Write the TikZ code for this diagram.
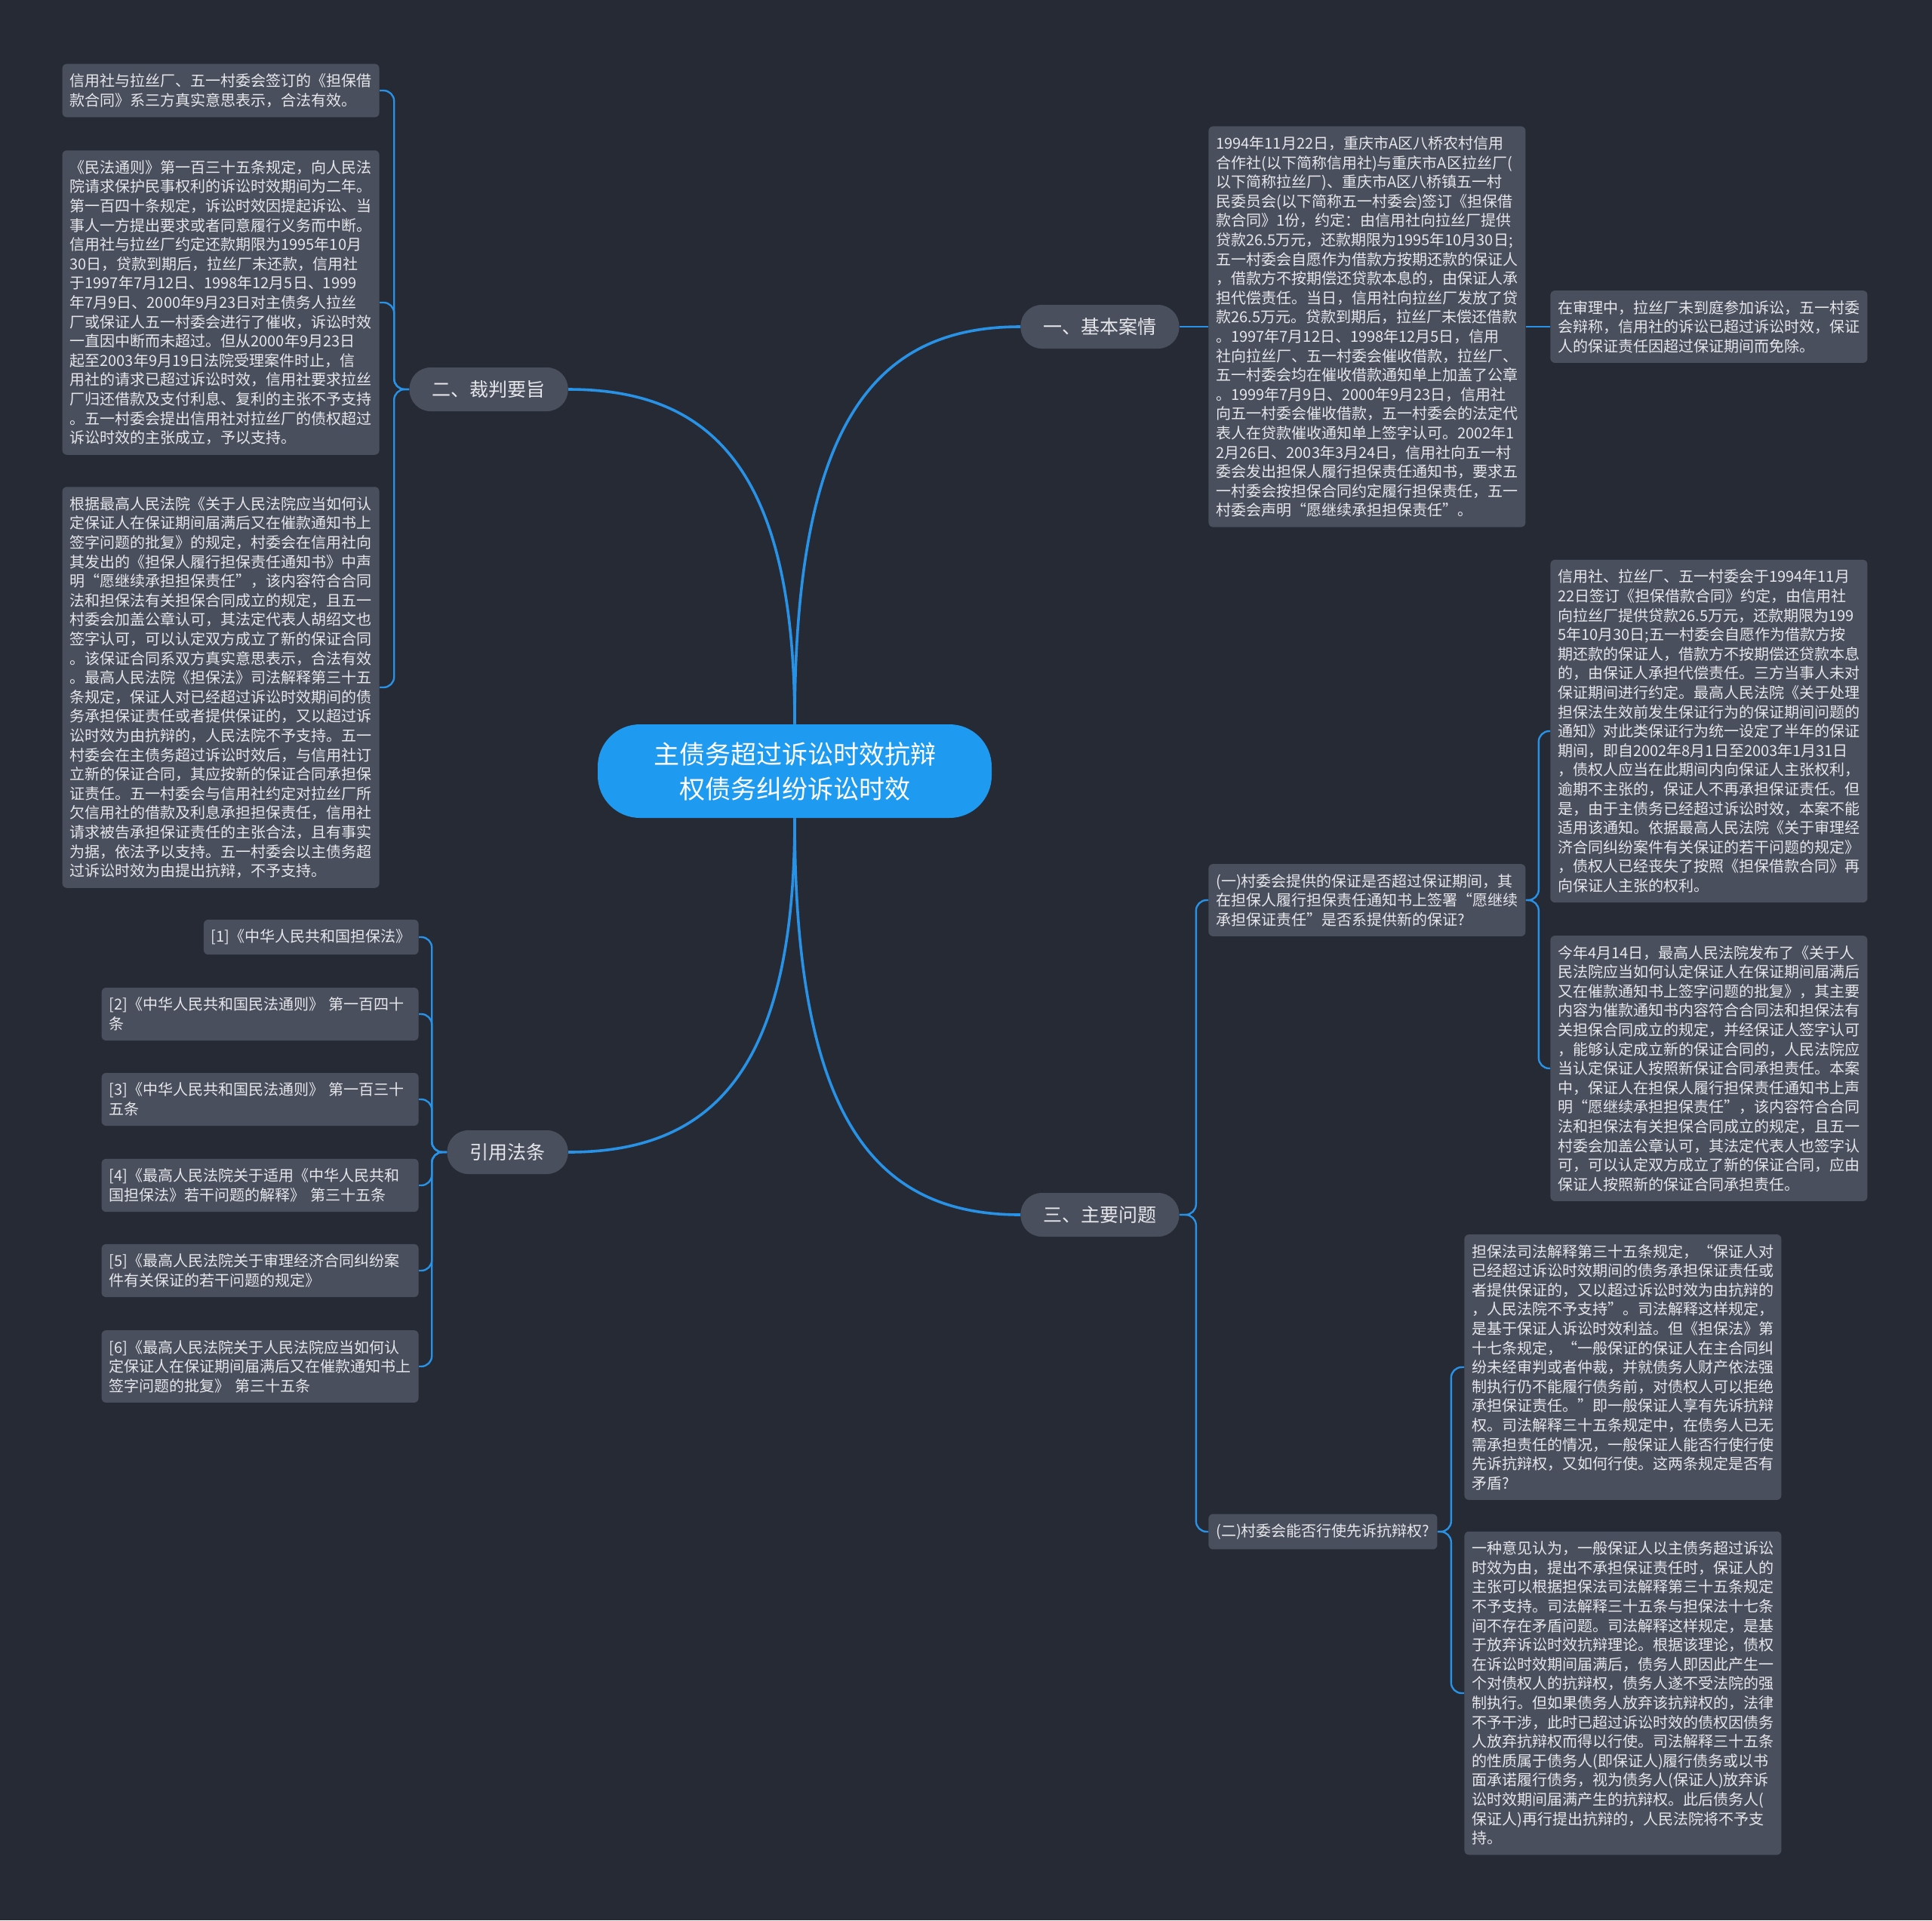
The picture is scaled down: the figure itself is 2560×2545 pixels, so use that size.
\documentclass[tikz,border=0pt]{standalone}
\usepackage{fontspec}
\newfontfamily\cjk{Noto Sans CJK SC}
\definecolor{bg}{HTML}{262A35}
\definecolor{boxfill}{HTML}{4A4F5E}
\definecolor{txt}{HTML}{E6E7EA}
\definecolor{rootblue}{HTML}{1E9BF0}
\definecolor{lineblue}{HTML}{2893E6}
\begin{document}
\begin{tikzpicture}[x=0.5pt,y=-0.5pt,
  box/.style={fill=boxfill, rounded corners=3pt, text=txt, font=\cjk\fontsize{10pt}{12.8pt}\selectfont, inner xsep=5pt, inner ysep=6.5pt, align=left},
  wbox/.style={box, text width=200pt},
  branch/.style={fill=boxfill, rounded corners=14pt, text=txt, font=\cjk\fontsize{12.5pt}{15pt}\selectfont, inner xsep=15pt, inner ysep=0pt, minimum height=29pt},
  rootnode/.style={fill=rootblue, rounded corners=28pt, text=white, font=\cjk\fontsize{17pt}{23pt}\selectfont, align=center, minimum width=261pt, minimum height=62pt},
  link/.style={draw=lineblue, line width=1.2pt, rounded corners=7pt},
  mainlink/.style={draw=lineblue, line width=1.8pt}
]
\useasboundingbox (0,0) rectangle (2560,2545);
\fill[bg] (0,0) rectangle (2560,2545);

% root and branches
\node[rootnode] (root) at (1053,1022) {主债务超过诉讼时效抗辩\\权债务纠纷诉讼时效};
\node[branch, anchor=west] (b1) at (1352,433) {一、基本案情};
\node[branch, anchor=east] (b2) at (753,516) {二、裁判要旨};
\node[branch, anchor=east] (b3) at (753,1527) {引用法条};
\node[branch, anchor=west] (b4) at (1352,1610) {三、主要问题};

% branch 1
\node[wbox, anchor=west] (B1) at (1601,433) {1994年11月22日，重庆市A区八桥农村信用\\
合作社(以下简称信用社)与重庆市A区拉丝厂(\\
以下简称拉丝厂)、重庆市A区八桥镇五一村\\
民委员会(以下简称五一村委会)签订《担保借\\
款合同》1份，约定：由信用社向拉丝厂提供\\
贷款26.5万元，还款期限为1995年10月30日;\\
五一村委会自愿作为借款方按期还款的保证人\\
，借款方不按期偿还贷款本息的，由保证人承\\
担代偿责任。当日，信用社向拉丝厂发放了贷\\
款26.5万元。贷款到期后，拉丝厂未偿还借款\\
。1997年7月12日、1998年12月5日，信用\\
社向拉丝厂、五一村委会催收借款，拉丝厂、\\
五一村委会均在催收借款通知单上加盖了公章\\
。1999年7月9日、2000年9月23日，信用社\\
向五一村委会催收借款，五一村委会的法定代\\
表人在贷款催收通知单上签字认可。2002年1\\
2月26日、2003年3月24日，信用社向五一村\\
委会发出担保人履行担保责任通知书，要求五\\
一村委会按担保合同约定履行担保责任，五一\\
村委会声明“愿继续承担担保责任”。};
\node[wbox, anchor=west] (B2) at (2054,433) {在审理中，拉丝厂未到庭参加诉讼，五一村委\\
会辩称，信用社的诉讼已超过诉讼时效，保证\\
人的保证责任因超过保证期间而免除。};

% branch 2
\node[wbox, anchor=east] (c1) at (503,120) {信用社与拉丝厂、五一村委会签订的《担保借\\
款合同》系三方真实意思表示，合法有效。};
\node[wbox, anchor=east] (c2) at (503,401) {《民法通则》第一百三十五条规定，向人民法\\
院请求保护民事权利的诉讼时效期间为二年。\\
第一百四十条规定，诉讼时效因提起诉讼、当\\
事人一方提出要求或者同意履行义务而中断。\\
信用社与拉丝厂约定还款期限为1995年10月\\
30日，贷款到期后，拉丝厂未还款，信用社\\
于1997年7月12日、1998年12月5日、1999\\
年7月9日、2000年9月23日对主债务人拉丝\\
厂或保证人五一村委会进行了催收，诉讼时效\\
一直因中断而未超过。但从2000年9月23日\\
起至2003年9月19日法院受理案件时止，信\\
用社的请求已超过诉讼时效，信用社要求拉丝\\
厂归还借款及支付利息、复利的主张不予支持\\
。五一村委会提出信用社对拉丝厂的债权超过\\
诉讼时效的主张成立，予以支持。};
\node[wbox, anchor=east] (c3) at (503,911) {根据最高人民法院《关于人民法院应当如何认\\
定保证人在保证期间届满后又在催款通知书上\\
签字问题的批复》的规定，村委会在信用社向\\
其发出的《担保人履行担保责任通知书》中声\\
明“愿继续承担担保责任”，该内容符合合同\\
法和担保法有关担保合同成立的规定，且五一\\
村委会加盖公章认可，其法定代表人胡绍文也\\
签字认可，可以认定双方成立了新的保证合同\\
。该保证合同系双方真实意思表示，合法有效\\
。最高人民法院《担保法》司法解释第三十五\\
条规定，保证人对已经超过诉讼时效期间的债\\
务承担保证责任或者提供保证的，又以超过诉\\
讼时效为由抗辩的，人民法院不予支持。五一\\
村委会在主债务超过诉讼时效后，与信用社订\\
立新的保证合同，其应按新的保证合同承担保\\
证责任。五一村委会与信用社约定对拉丝厂所\\
欠信用社的借款及利息承担担保责任，信用社\\
请求被告承担保证责任的主张合法，且有事实\\
为据，依法予以支持。五一村委会以主债务超\\
过诉讼时效为由提出抗辩，不予支持。};

% branch 3 (citations)
\node[box, anchor=east] (r1) at (555,1242) {[1]《中华人民共和国担保法》};
\node[wbox, anchor=east] (r2) at (555,1344) {[2]《中华人民共和国民法通则》~第一百四十\\条};
\node[wbox, anchor=east] (r3) at (555,1457) {[3]《中华人民共和国民法通则》~第一百三十\\五条};
\node[wbox, anchor=east] (r4) at (555,1571) {[4]《最高人民法院关于适用《中华人民共和\\国担保法》若干问题的解释》~第三十五条};
\node[wbox, anchor=east] (r5) at (555,1684) {[5]《最高人民法院关于审理经济合同纠纷案\\件有关保证的若干问题的规定》};
\node[wbox, anchor=east] (r6) at (555,1811) {[6]《最高人民法院关于人民法院应当如何认\\定保证人在保证期间届满后又在催款通知书上\\签字问题的批复》~第三十五条};

% branch 4
\node[wbox, anchor=west] (q1) at (1601,1193) {(一)村委会提供的保证是否超过保证期间，其\\
在担保人履行担保责任通知书上签署“愿继续\\
承担保证责任”是否系提供新的保证?};
\node[box, anchor=west] (q2) at (1601,2030) {(二)村委会能否行使先诉抗辩权?};
\node[wbox, anchor=west] (a1) at (2054,969) {信用社、拉丝厂、五一村委会于1994年11月\\
22日签订《担保借款合同》约定，由信用社\\
向拉丝厂提供贷款26.5万元，还款期限为199\\
5年10月30日;五一村委会自愿作为借款方按\\
期还款的保证人，借款方不按期偿还贷款本息\\
的，由保证人承担代偿责任。三方当事人未对\\
保证期间进行约定。最高人民法院《关于处理\\
担保法生效前发生保证行为的保证期间问题的\\
通知》对此类保证行为统一设定了半年的保证\\
期间，即自2002年8月1日至2003年1月31日\\
，债权人应当在此期间内向保证人主张权利，\\
逾期不主张的，保证人不再承担保证责任。但\\
是，由于主债务已经超过诉讼时效，本案不能\\
适用该通知。依据最高人民法院《关于审理经\\
济合同纠纷案件有关保证的若干问题的规定》\\
，债权人已经丧失了按照《担保借款合同》再\\
向保证人主张的权利。};
\node[wbox, anchor=west] (a2) at (2054,1416) {今年4月14日，最高人民法院发布了《关于人\\
民法院应当如何认定保证人在保证期间届满后\\
又在催款通知书上签字问题的批复》，其主要\\
内容为催款通知书内容符合合同法和担保法有\\
关担保合同成立的规定，并经保证人签字认可\\
，能够认定成立新的保证合同的，人民法院应\\
当认定保证人按照新保证合同承担责任。本案\\
中，保证人在担保人履行担保责任通知书上声\\
明“愿继续承担担保责任”，该内容符合合同\\
法和担保法有关担保合同成立的规定，且五一\\
村委会加盖公章认可，其法定代表人也签字认\\
可，可以认定双方成立了新的保证合同，应由\\
保证人按照新的保证合同承担责任。};
\node[wbox, anchor=west] (d1) at (1940,1812) {担保法司法解释第三十五条规定，“保证人对\\
已经超过诉讼时效期间的债务承担保证责任或\\
者提供保证的，又以超过诉讼时效为由抗辩的\\
，人民法院不予支持”。司法解释这样规定，\\
是基于保证人诉讼时效利益。但《担保法》第\\
十七条规定，“一般保证的保证人在主合同纠\\
纷未经审判或者仲裁，并就债务人财产依法强\\
制执行仍不能履行债务前，对债权人可以拒绝\\
承担保证责任。”即一般保证人享有先诉抗辩\\
权。司法解释三十五条规定中，在债务人已无\\
需承担责任的情况，一般保证人能否行使行使\\
先诉抗辩权，又如何行使。这两条规定是否有\\
矛盾?};
\node[wbox, anchor=west] (d2) at (1940,2244) {一种意见认为，一般保证人以主债务超过诉讼\\
时效为由，提出不承担保证责任时，保证人的\\
主张可以根据担保法司法解释第三十五条规定\\
不予支持。司法解释三十五条与担保法十七条\\
间不存在矛盾问题。司法解释这样规定，是基\\
于放弃诉讼时效抗辩理论。根据该理论，债权\\
在诉讼时效期间届满后，债务人即因此产生一\\
个对债权人的抗辩权，债务人遂不受法院的强\\
制执行。但如果债务人放弃该抗辩权的，法律\\
不予干涉，此时已超过诉讼时效的债权因债务\\
人放弃抗辩权而得以行使。司法解释三十五条\\
的性质属于债务人(即保证人)履行债务或以书\\
面承诺履行债务，视为债务人(保证人)放弃诉\\
讼时效期间届满产生的抗辩权。此后债务人(\\
保证人)再行提出抗辩的，人民法院将不予支\\
持。};

% main connectors
\draw[mainlink] (root.north) .. controls (1053,565) and (1156,433) .. (b1.west);
\draw[mainlink] (root.north) .. controls (1053,627) and (946,516) .. (b2.east);
\draw[mainlink] (root.south) .. controls (1053,1416) and (946,1527) .. (b3.east);
\draw[mainlink] (root.south) .. controls (1053,1478) and (1156,1610) .. (b4.west);

% sub connectors
\draw[link] (b1.east) -- (B1.west);
\draw[link] (B1.east) -- (B2.west);
\foreach \c in {c1,c2,c3} \draw[link] (b2.west) -- ++(-20,0) |- (\c.east);
\foreach \c in {r1,r2,r3,r4,r5,r6} \draw[link] (b3.west) -- ++(-20,0) |- (\c.east);
\foreach \c in {q1,q2} \draw[link] (b4.east) -- ++(22,0) |- (\c.west);
\foreach \c in {a1,a2} \draw[link] (q1.east) -- ++(17,0) |- (\c.west);
\foreach \c in {d1,d2} \draw[link] (q2.east) -- ++(18,0) |- (\c.west);
\end{tikzpicture}
\end{document}
